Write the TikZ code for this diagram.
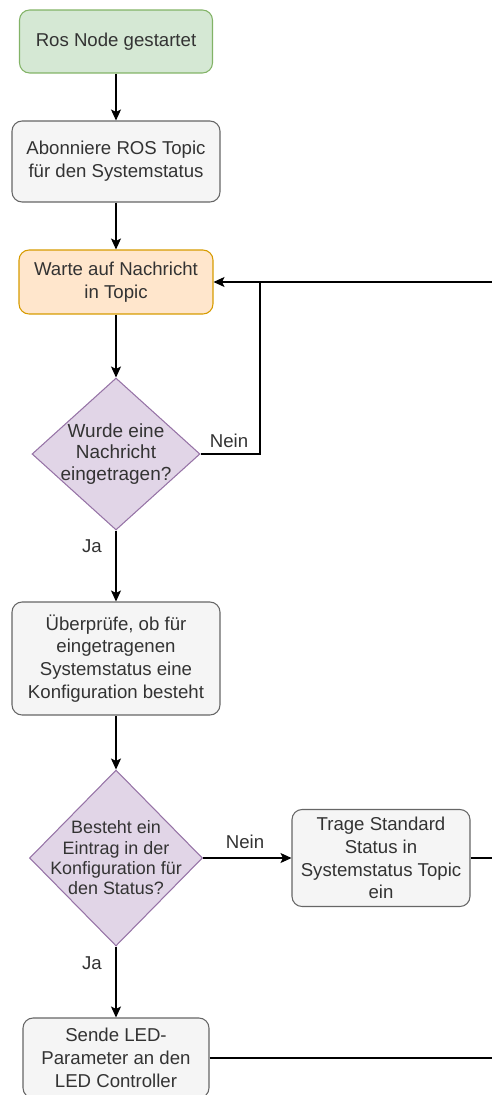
\documentclass[tikz,border=0pt]{standalone}
\usepackage{fontspec}
\setmainfont{Liberation Sans}
\usepackage{tikz}
\usetikzlibrary{arrows.meta}
\usetikzlibrary{shapes.geometric}
\usetikzlibrary{positioning}

\definecolor{startfill}{HTML}{D5E8D4}
\definecolor{startline}{HTML}{82B366}
\definecolor{stepfill}{HTML}{F5F5F5}
\definecolor{stepline}{HTML}{666666}
\definecolor{waitfill}{HTML}{FFE6CC}
\definecolor{waitline}{HTML}{D79B00}
\definecolor{askfill}{HTML}{E1D5E7}
\definecolor{askline}{HTML}{9673A6}
\definecolor{txt}{HTML}{333333}

\tikzset{
	box/.style={draw, rounded corners=0.2cm, line width=0.6pt, inner sep=0pt, align=center, text=txt,
		font=\fontsize{10.6}{13}\selectfont},
	startbox/.style={box, fill=startfill, draw=startline},
	stepbox/.style={box, fill=stepfill, draw=stepline},
	waitbox/.style={box, fill=waitfill, draw=waitline},
	askbox/.style={draw=askline, fill=askfill, shape=diamond, inner sep=0pt, line width=0.6pt},
	asktext/.style={align=center, text=txt, font=\fontsize{10.8}{12.4}\selectfont},
	flow/.style={-{Stealth[length=0.22cm,width=0.2cm,inset=0.05cm]}, line width=0.6pt},
	line/.style={line width=0.6pt},
	answer/.style={text=txt, font=\fontsize{10.6}{13}\selectfont}
}

\begin{document}
\begin{tikzpicture}[x=0.02cm, y=-0.02cm]
		\useasboundingbox (0,0) rectangle (491,1095);

		\node[startbox, minimum width=3.86cm, minimum height=1.26cm] (start) at (116,41.5) {Ros Node gestartet};
		\node[stepbox, minimum width=4.16cm, minimum height=1.62cm] (sub) at (116,161.5) {Abonniere ROS Topic\\f\"ur den Systemstatus};
		\node[waitbox, minimum width=3.88cm, minimum height=1.28cm] (wait) at (116,282) {Warte auf Nachricht\\in Topic};
		\node[askbox, minimum width=3.36cm, minimum height=3.04cm,
			label={[asktext]center:Wurde eine\\Nachricht\\eingetragen?}] (msg) at (116,454) {};
		\node[stepbox, minimum width=4.16cm, minimum height=2.26cm] (check) at (116,658.5) {\"Uberpr\"ufe, ob f\"ur\\eingetragenen\\Systemstatus eine\\Konfiguration besteht};
		\node[askbox, minimum width=3.46cm, minimum height=3.52cm,
			label={[asktext, font=\fontsize{10.2}{11.6}\selectfont]center:Besteht ein\\Eintrag in der\\Konfiguration f\"ur\\den Status?}] (conf) at (116,858) {};
		\node[stepbox, minimum width=3.56cm, minimum height=1.94cm] (std) at (381,858) {Trage Standard\\Status in\\Systemstatus Topic\\ein};
		\node[stepbox, minimum width=3.72cm, minimum height=1.60cm] (send) at (116,1058) {Sende LED-\\Parameter an den\\LED Controller};

		\coordinate (nein) at (260,282);
		\coordinate (back) at (520,282);

		\draw[flow] (start) -- (sub);
		\draw[flow] (sub) -- (wait);
		\draw[flow] (wait) -- (msg);
		\draw[line] (msg.east) -| (nein);
		\draw[flow] (back) -- (wait.east);
		\draw[flow] (msg.south) -- (check.north);
		\draw[flow] (check) -- (conf.north);
		\draw[flow] (conf.east) -- (std.west);
		\draw[flow] (conf.south) -- (send.north);
		\draw[line] (std.east) -| (back);
		\draw[line] (send.east) -| (back);

		\node[answer] (nein1) at (229,441) {Nein};
		\node[answer] (ja1) at (92,546) {Ja};
		\node[answer] (nein2) at (245,842) {Nein};
		\node[answer] (ja2) at (92,963) {Ja};
\end{tikzpicture}
\end{document}
